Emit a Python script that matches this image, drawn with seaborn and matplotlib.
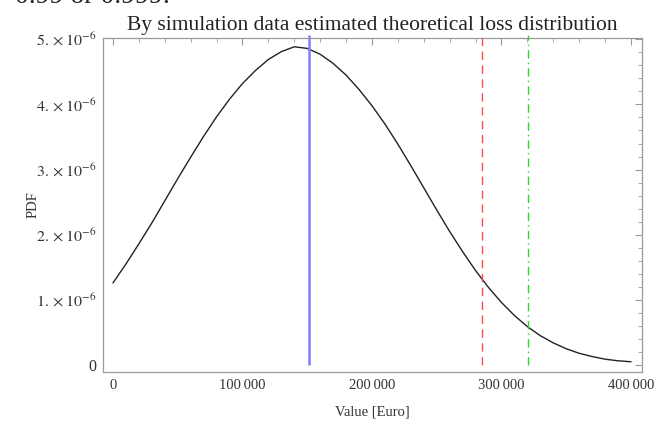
import numpy as np
import pandas as pd
import matplotlib
matplotlib.use('Agg')
import matplotlib.pyplot as plt
import seaborn as sns
from matplotlib.ticker import MultipleLocator, FuncFormatter

# curve (value in thousand Euro, pdf in 1e-6)
value_k = [0, 10, 20, 30, 40, 50, 60, 70, 80, 90, 100, 110, 120, 130, 140,
           150, 160, 170, 180, 190, 200, 210, 220, 230, 240, 250, 260, 270,
           280, 290, 300, 310, 320, 330, 340, 350, 360, 370, 380, 390, 400]
pdf_e6 = [1.26, 1.55, 1.86, 2.18, 2.52, 2.86, 3.19, 3.51, 3.81, 4.08, 4.32,
          4.52, 4.69, 4.81, 4.885, 4.86, 4.77, 4.63, 4.45, 4.23, 3.98, 3.70,
          3.39, 3.06, 2.72, 2.38, 2.05, 1.74, 1.45, 1.19, 0.96, 0.76, 0.59,
          0.45, 0.34, 0.25, 0.18, 0.13, 0.09, 0.065, 0.05]

mean_value = 151000      # blue line
var_99 = 285000          # red dashed
var_999 = 320500         # green dash-dot

df = pd.DataFrame({'value': np.array(value_k) * 1000,
                   'pdf': np.array(pdf_e6) * 1e-6})

sns.set_style('white')
plt.rcParams['font.family'] = ['Liberation Serif', 'DejaVu Serif']
plt.rcParams['mathtext.fontset'] = 'stix'

fig = plt.figure(figsize=(6.7, 4.21), dpi=100)
ax = fig.add_axes([0.1537, 0.1164, 0.8045, 0.7934])

sns.lineplot(x='value', y='pdf', data=df, ax=ax, color='#222222', linewidth=1.0)
top = 5.02e-6
ax.vlines(mean_value, 0, top + 0.04e-6, color='#8080ff', linewidth=1.8, clip_on=False)
ax.vlines(var_99, 0, top + 0.04e-6, color='#ff4c4c', linewidth=1.0,
          linestyles=(0, (6, 4)), clip_on=False)
ax.vlines(var_999, 0, top + 0.04e-6, color='#22dd22', linewidth=1.0,
          linestyles=(0, (6, 3, 1, 3)), clip_on=False)

ax.set_xlim(-7700, 408500)
ax.set_ylim(-0.107e-6, top)

ax.xaxis.set_major_locator(MultipleLocator(100000))
ax.xaxis.set_minor_locator(MultipleLocator(20000))
ax.yaxis.set_major_locator(MultipleLocator(1e-6))
ax.yaxis.set_minor_locator(MultipleLocator(0.2e-6))


def xfmt(v, pos):
    if abs(v) < 1:
        return '0'
    s = '{:,.0f}'.format(v)
    return s.replace(',', '\u2009')


def yfmt(v, pos):
    m = round(v * 1e6)
    if m == 0:
        return '0'
    return r'$%d.\times10^{-6}$' % m


ax.xaxis.set_major_formatter(FuncFormatter(xfmt))
ax.yaxis.set_major_formatter(FuncFormatter(yfmt))

ax.tick_params(which='both', direction='in', top=True, right=True,
               color='#999999', labelsize=10.5, labelcolor='#333333')
ax.tick_params(axis='y', labelsize=11.5)
ax.tick_params(which='major', length=5, width=0.8, pad=5)
ax.tick_params(which='minor', length=3, width=0.6)
for sp in ax.spines.values():
    sp.set_color('#999999')
    sp.set_linewidth(0.9)

ax.set_xlabel('Value [Euro]', fontsize=10.5, color='#333333', labelpad=10)
ax.set_ylabel('PDF', fontsize=10.5, color='#333333')
ax.yaxis.set_label_coords(-0.118, 0.5)
ax.set_title('By simulation data estimated theoretical loss distribution',
             fontsize=15.5, color='#222222', pad=6)

fig.text(0.022, 0.994, '0.99 or 0.999.', fontsize=20, color='#222222',
         va='baseline', ha='left')

fig.savefig('out.png', dpi=100)
